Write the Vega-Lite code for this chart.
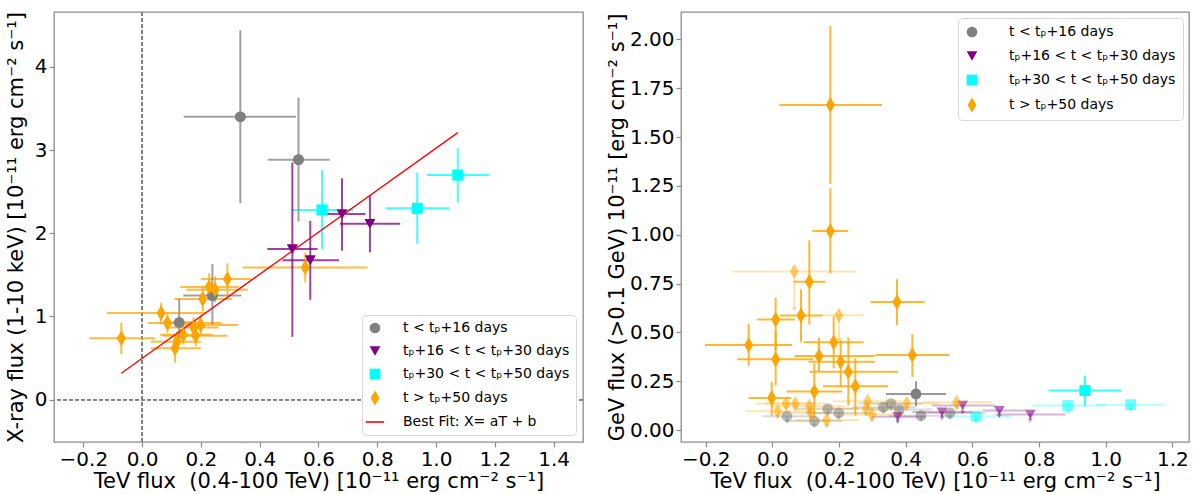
{
  "$schema": "https://vega.github.io/schema/vega-lite/v6.json",
  "background": "white",
  "padding": {"left": 4, "top": 10, "right": 4, "bottom": 0},
  "config": {
    "font": "DejaVu Sans",
    "view": {"stroke": "#8c8c8c", "strokeWidth": 1.3},
    "axis": {
      "grid": false, "domain": false, "tickColor": "#8c8c8c", "tickSize": 5, "tickWidth": 1.2,
      "labelFontSize": 20, "labelColor": "black", "labelPadding": 2,
      "titleFontSize": 21, "titleFontWeight": "normal", "titleColor": "black"
    },
    "legend": {
      "title": null, "labelFontSize": 14, "labelColor": "black", "labelLimit": 400, "symbolSize": 115,
      "symbolStrokeWidth": 0, "strokeColor": "#d8d8d8", "fillColor": "white", "cornerRadius": 4,
      "padding": 6, "rowPadding": 9, "labelOffset": 21, "offset": 7
    }
  },
  "spacing": 20,
  "resolve": {
    "scale": {"color": "independent", "shape": "independent"},
    "legend": {"color": "independent", "shape": "independent"}
  },
  "hconcat": [
    {
      "width": 529,
      "height": 430,
      "data": {"values": [
        {"g": "t < tₚ+16 days", "x": 0.334, "y": 3.40, "xlo": 0.141, "xhi": 0.524, "ylo": 2.36, "yhi": 4.44},
        {"g": "t < tₚ+16 days", "x": 0.532, "y": 2.885, "xlo": 0.427, "xhi": 0.638, "ylo": 2.14, "yhi": 3.63},
        {"g": "t < tₚ+16 days", "x": 0.239, "y": 1.25, "xlo": 0.140, "xhi": 0.338, "ylo": 0.906, "yhi": 1.63},
        {"g": "t < tₚ+16 days", "x": 0.126, "y": 0.926, "xlo": 0.07, "xhi": 0.185, "ylo": 0.71, "yhi": 1.21},
        {"g": "tₚ+16 < t < tₚ+30 days", "x": 0.511, "y": 1.81, "xlo": 0.426, "xhi": 0.597, "ylo": 0.754, "yhi": 2.85},
        {"g": "tₚ+16 < t < tₚ+30 days", "x": 0.572, "y": 1.675, "xlo": 0.477, "xhi": 0.67, "ylo": 1.20, "yhi": 2.15},
        {"g": "tₚ+16 < t < tₚ+30 days", "x": 0.68, "y": 2.23, "xlo": 0.63, "xhi": 0.76, "ylo": 1.79, "yhi": 2.66},
        {"g": "tₚ+16 < t < tₚ+30 days", "x": 0.775, "y": 2.115, "xlo": 0.673, "xhi": 0.878, "ylo": 1.77, "yhi": 2.45},
        {"g": "tₚ+30 < t < tₚ+50 days", "x": 0.612, "y": 2.28, "xlo": 0.51, "xhi": 0.717, "ylo": 1.81, "yhi": 2.76},
        {"g": "tₚ+30 < t < tₚ+50 days", "x": 0.936, "y": 2.30, "xlo": 0.829, "xhi": 1.046, "ylo": 1.87, "yhi": 2.73},
        {"g": "tₚ+30 < t < tₚ+50 days", "x": 1.074, "y": 2.70, "xlo": 0.969, "xhi": 1.18, "ylo": 2.37, "yhi": 3.03},
        {"g": "t > tₚ+50 days", "x": 0.290, "y": 1.45, "xlo": 0.20, "xhi": 0.37, "ylo": 1.255, "yhi": 1.64},
        {"g": "t > tₚ+50 days", "x": 0.228, "y": 1.355, "xlo": 0.13, "xhi": 0.33, "ylo": 1.2, "yhi": 1.52},
        {"g": "t > tₚ+50 days", "x": 0.248, "y": 1.32, "xlo": 0.15, "xhi": 0.36, "ylo": 1.17, "yhi": 1.48},
        {"g": "t > tₚ+50 days", "x": 0.206, "y": 1.21, "xlo": 0.11, "xhi": 0.305, "ylo": 1.06, "yhi": 1.36},
        {"g": "t > tₚ+50 days", "x": 0.0645, "y": 1.04, "xlo": -0.12, "xhi": 0.22, "ylo": 0.906, "yhi": 1.165},
        {"g": "t > tₚ+50 days", "x": 0.086, "y": 0.92, "xlo": 0.02, "xhi": 0.27, "ylo": 0.8, "yhi": 1.04},
        {"g": "t > tₚ+50 days", "x": 0.199, "y": 0.898, "xlo": 0.123, "xhi": 0.327, "ylo": 0.78, "yhi": 1.02},
        {"g": "t > tₚ+50 days", "x": 0.175, "y": 0.866, "xlo": 0.08, "xhi": 0.26, "ylo": 0.74, "yhi": 0.99},
        {"g": "t > tₚ+50 days", "x": 0.182, "y": 0.766, "xlo": 0.07, "xhi": 0.29, "ylo": 0.64, "yhi": 0.89},
        {"g": "t > tₚ+50 days", "x": 0.140, "y": 0.778, "xlo": 0.06, "xhi": 0.24, "ylo": 0.66, "yhi": 0.9},
        {"g": "t > tₚ+50 days", "x": 0.119, "y": 0.694, "xlo": 0.03, "xhi": 0.2, "ylo": 0.57, "yhi": 0.82},
        {"g": "t > tₚ+50 days", "x": 0.112, "y": 0.617, "xlo": 0.03, "xhi": 0.2, "ylo": 0.445, "yhi": 0.76},
        {"g": "t > tₚ+50 days", "x": -0.071, "y": 0.738, "xlo": -0.18, "xhi": 0.044, "ylo": 0.546, "yhi": 0.925},
        {"g": "t > tₚ+50 days", "x": 0.555, "y": 1.587, "xlo": 0.342, "xhi": 0.767, "ylo": 1.41, "yhi": 1.77}
      ]},
      "layer": [
        {
          "mark": {"type": "rule", "strokeDash": [4, 2], "color": "#808080", "strokeWidth": 1},
          "encoding": {
            "x": {"datum": 0, "type": "quantitative",
              "scale": {"domain": [-0.3, 1.5], "nice": false, "zero": false},
              "axis": {"values": [-0.2, 0, 0.2, 0.4, 0.6, 0.8, 1.0, 1.2, 1.4], "format": ".1f", "titlePadding": 1,
                "title": "TeV flux \u00a0(0.4-100 TeV) [10⁻¹¹ erg cm⁻² s⁻¹]"}}
          }
        },
        {
          "mark": {"type": "rule", "strokeDash": [4, 2], "color": "#808080", "strokeWidth": 1},
          "encoding": {
            "y": {"datum": 0, "type": "quantitative",
              "scale": {"domain": [-0.51, 4.66], "nice": false, "zero": false},
              "axis": {"values": [0, 1, 2, 3, 4], "format": "d", "minExtent": 21, "maxExtent": 21, "titlePadding": 7,
                "title": "X-ray flux (1-10 keV) [10⁻¹¹ erg cm⁻² s⁻¹]"}}
          }
        },
        {
          "mark": {"type": "point", "filled": true, "size": 115, "opacity": 1},
          "encoding": {
            "x": {"field": "x", "type": "quantitative"},
            "y": {"field": "y", "type": "quantitative"},
            "color": {"field": "g", "type": "nominal",
              "scale": {"domain": ["t < tₚ+16 days", "tₚ+16 < t < tₚ+30 days", "tₚ+30 < t < tₚ+50 days", "t > tₚ+50 days", "Best Fit: X= aT + b"],
                "range": ["#808080", "#800080", "#00ffff", "#ffa500", "#ff0000"]},
              "legend": {"orient": "bottom-right"}},
            "shape": {"field": "g", "type": "nominal",
              "scale": {"domain": ["t < tₚ+16 days", "tₚ+16 < t < tₚ+30 days", "tₚ+30 < t < tₚ+50 days", "t > tₚ+50 days", "Best Fit: X= aT + b"],
                "range": ["circle", "triangle-down", "square", "M0,-1.4L0.82,0L0,1.4L-0.82,0Z", "M-1.7,-0.15L1.7,-0.15L1.7,0.15L-1.7,0.15Z"]},
              "legend": {"orient": "bottom-right"}}
          }
        },
        {
          "mark": {"type": "rule", "strokeWidth": 2, "opacity": 0.75},
          "encoding": {
            "x": {"field": "xlo", "type": "quantitative"},
            "x2": {"field": "xhi"},
            "y": {"field": "y", "type": "quantitative"},
            "color": {"field": "g", "type": "nominal"}
          }
        },
        {
          "mark": {"type": "rule", "strokeWidth": 2, "opacity": 0.75},
          "encoding": {
            "x": {"field": "x", "type": "quantitative"},
            "y": {"field": "ylo", "type": "quantitative"},
            "y2": {"field": "yhi"},
            "color": {"field": "g", "type": "nominal"}
          }
        },
        {
          "data": {"values": [
            {"g": "Best Fit: X= aT + b", "x": -0.071, "y": 0.317},
            {"g": "Best Fit: X= aT + b", "x": 1.074, "y": 3.21}
          ]},
          "mark": {"type": "line", "strokeWidth": 1.3},
          "encoding": {
            "x": {"field": "x", "type": "quantitative"},
            "y": {"field": "y", "type": "quantitative"},
            "color": {"field": "g", "type": "nominal"}
          }
        },
        {
          "mark": {"type": "point", "filled": true, "size": 115, "opacity": 1},
          "encoding": {
            "x": {"field": "x", "type": "quantitative"},
            "y": {"field": "y", "type": "quantitative"},
            "color": {"field": "g", "type": "nominal"},
            "shape": {"field": "g", "type": "nominal"}
          }
        }
      ]
    },
    {
      "width": 508,
      "height": 430,
      "data": {"values": [
        {"g": "t < tₚ+16 days", "x": 0.431, "y": 0.185, "xlo": 0.341, "xhi": 0.521, "ylo": 0.122, "yhi": 0.25, "ul": false},
        {"g": "t < tₚ+16 days", "x": 0.044, "y": 0.071, "xlo": -0.03, "xhi": 0.12, "ylo": 0.04, "yhi": 0.071, "ul": true},
        {"g": "t < tₚ+16 days", "x": 0.126, "y": 0.046, "xlo": 0.04, "xhi": 0.21, "ylo": 0.02, "yhi": 0.046, "ul": true},
        {"g": "t < tₚ+16 days", "x": 0.166, "y": 0.109, "xlo": 0.07, "xhi": 0.26, "ylo": 0.08, "yhi": 0.109, "ul": true},
        {"g": "t < tₚ+16 days", "x": 0.199, "y": 0.088, "xlo": 0.1, "xhi": 0.3, "ylo": 0.06, "yhi": 0.088, "ul": true},
        {"g": "t < tₚ+16 days", "x": 0.333, "y": 0.117, "xlo": 0.24, "xhi": 0.43, "ylo": 0.09, "yhi": 0.117, "ul": true},
        {"g": "t < tₚ+16 days", "x": 0.356, "y": 0.136, "xlo": 0.26, "xhi": 0.45, "ylo": 0.11, "yhi": 0.136, "ul": true},
        {"g": "t < tₚ+16 days", "x": 0.381, "y": 0.105, "xlo": 0.28, "xhi": 0.48, "ylo": 0.08, "yhi": 0.105, "ul": true},
        {"g": "t < tₚ+16 days", "x": 0.446, "y": 0.074, "xlo": 0.35, "xhi": 0.54, "ylo": 0.05, "yhi": 0.074, "ul": true},
        {"g": "t < tₚ+16 days", "x": 0.533, "y": 0.088, "xlo": 0.43, "xhi": 0.64, "ylo": 0.06, "yhi": 0.088, "ul": true},
        {"g": "tₚ+16 < t < tₚ+30 days", "x": 0.376, "y": 0.068, "xlo": 0.3, "xhi": 0.46, "ylo": 0.04, "yhi": 0.068, "ul": true},
        {"g": "tₚ+16 < t < tₚ+30 days", "x": 0.509, "y": 0.092, "xlo": 0.42, "xhi": 0.6, "ylo": 0.06, "yhi": 0.092, "ul": true},
        {"g": "tₚ+16 < t < tₚ+30 days", "x": 0.571, "y": 0.126, "xlo": 0.48, "xhi": 0.67, "ylo": 0.09, "yhi": 0.126, "ul": true},
        {"g": "tₚ+16 < t < tₚ+30 days", "x": 0.681, "y": 0.10, "xlo": 0.63, "xhi": 0.76, "ylo": 0.07, "yhi": 0.10, "ul": true},
        {"g": "tₚ+16 < t < tₚ+30 days", "x": 0.774, "y": 0.08, "xlo": 0.67, "xhi": 0.88, "ylo": 0.05, "yhi": 0.08, "ul": true},
        {"g": "tₚ+30 < t < tₚ+50 days", "x": 0.938, "y": 0.202, "xlo": 0.829, "xhi": 1.046, "ylo": 0.122, "yhi": 0.279, "ul": false},
        {"g": "tₚ+30 < t < tₚ+50 days", "x": 0.611, "y": 0.071, "xlo": 0.51, "xhi": 0.72, "ylo": 0.04, "yhi": 0.071, "ul": true},
        {"g": "tₚ+30 < t < tₚ+50 days", "x": 0.886, "y": 0.126, "xlo": 0.78, "xhi": 1.0, "ylo": 0.09, "yhi": 0.126, "ul": true},
        {"g": "tₚ+30 < t < tₚ+50 days", "x": 1.075, "y": 0.13, "xlo": 0.97, "xhi": 1.18, "ylo": 0.1, "yhi": 0.13, "ul": true},
        {"g": "t > tₚ+50 days", "x": 0.174, "y": 1.664, "xlo": 0.021, "xhi": 0.329, "ylo": 1.259, "yhi": 2.069, "ul": false},
        {"g": "t > tₚ+50 days", "x": 0.174, "y": 1.019, "xlo": 0.12, "xhi": 0.228, "ylo": 0.802, "yhi": 1.238, "ul": false},
        {"g": "t > tₚ+50 days", "x": 0.111, "y": 0.759, "xlo": 0.063, "xhi": 0.16, "ylo": 0.54, "yhi": 0.971, "ul": false},
        {"g": "t > tₚ+50 days", "x": 0.374, "y": 0.655, "xlo": 0.295, "xhi": 0.457, "ylo": 0.536, "yhi": 0.772, "ul": false},
        {"g": "t > tₚ+50 days", "x": 0.086, "y": 0.586, "xlo": 0.023, "xhi": 0.151, "ylo": 0.45, "yhi": 0.72, "ul": false},
        {"g": "t > tₚ+50 days", "x": 0.010, "y": 0.566, "xlo": -0.046, "xhi": 0.068, "ylo": 0.41, "yhi": 0.678, "ul": false},
        {"g": "t > tₚ+50 days", "x": -0.071, "y": 0.436, "xlo": -0.202, "xhi": 0.06, "ylo": 0.329, "yhi": 0.543, "ul": false},
        {"g": "t > tₚ+50 days", "x": 0.184, "y": 0.45, "xlo": 0.094, "xhi": 0.274, "ylo": 0.316, "yhi": 0.583, "ul": false},
        {"g": "t > tₚ+50 days", "x": 0.420, "y": 0.384, "xlo": 0.31, "xhi": 0.531, "ylo": 0.272, "yhi": 0.491, "ul": false},
        {"g": "t > tₚ+50 days", "x": 0.14, "y": 0.379, "xlo": 0.066, "xhi": 0.308, "ylo": 0.298, "yhi": 0.474, "ul": false},
        {"g": "t > tₚ+50 days", "x": 0.010, "y": 0.362, "xlo": -0.105, "xhi": 0.123, "ylo": 0.229, "yhi": 0.505, "ul": false},
        {"g": "t > tₚ+50 days", "x": 0.205, "y": 0.35, "xlo": 0.108, "xhi": 0.308, "ylo": 0.221, "yhi": 0.462, "ul": false},
        {"g": "t > tₚ+50 days", "x": 0.228, "y": 0.298, "xlo": 0.112, "xhi": 0.377, "ylo": 0.126, "yhi": 0.474, "ul": false},
        {"g": "t > tₚ+50 days", "x": 0.249, "y": 0.224, "xlo": 0.152, "xhi": 0.348, "ylo": 0.074, "yhi": 0.367, "ul": false},
        {"g": "t > tₚ+50 days", "x": 0.126, "y": 0.198, "xlo": 0.042, "xhi": 0.209, "ylo": 0.066, "yhi": 0.341, "ul": false},
        {"g": "t > tₚ+50 days", "x": -0.002, "y": 0.164, "xlo": -0.071, "xhi": 0.057, "ylo": 0.074, "yhi": 0.247, "ul": false},
        {"g": "t > tₚ+50 days", "x": 0.066, "y": 0.812, "xlo": -0.12, "xhi": 0.251, "ylo": 0.62, "yhi": 0.812, "ul": true},
        {"g": "t > tₚ+50 days", "x": 0.2, "y": 0.588, "xlo": 0.146, "xhi": 0.274, "ylo": 0.46, "yhi": 0.588, "ul": true},
        {"g": "t > tₚ+50 days", "x": 0.041, "y": 0.136, "xlo": -0.05, "xhi": 0.13, "ylo": 0.11, "yhi": 0.136, "ul": true},
        {"g": "t > tₚ+50 days", "x": 0.069, "y": 0.136, "xlo": -0.02, "xhi": 0.16, "ylo": 0.11, "yhi": 0.136, "ul": true},
        {"g": "t > tₚ+50 days", "x": 0.016, "y": 0.097, "xlo": -0.08, "xhi": 0.11, "ylo": 0.07, "yhi": 0.097, "ul": true},
        {"g": "t > tₚ+50 days", "x": 0.111, "y": 0.122, "xlo": 0.0, "xhi": 0.22, "ylo": 0.09, "yhi": 0.122, "ul": true},
        {"g": "t > tₚ+50 days", "x": 0.116, "y": 0.088, "xlo": 0.02, "xhi": 0.21, "ylo": 0.06, "yhi": 0.088, "ul": true},
        {"g": "t > tₚ+50 days", "x": 0.163, "y": 0.051, "xlo": 0.07, "xhi": 0.26, "ylo": 0.02, "yhi": 0.051, "ul": true},
        {"g": "t > tₚ+50 days", "x": 0.286, "y": 0.148, "xlo": 0.18, "xhi": 0.39, "ylo": 0.12, "yhi": 0.148, "ul": true},
        {"g": "t > tₚ+50 days", "x": 0.281, "y": 0.109, "xlo": 0.18, "xhi": 0.38, "ylo": 0.08, "yhi": 0.109, "ul": true},
        {"g": "t > tₚ+50 days", "x": 0.299, "y": 0.08, "xlo": 0.2, "xhi": 0.4, "ylo": 0.05, "yhi": 0.08, "ul": true},
        {"g": "t > tₚ+50 days", "x": 0.403, "y": 0.136, "xlo": 0.3, "xhi": 0.5, "ylo": 0.11, "yhi": 0.136, "ul": true},
        {"g": "t > tₚ+50 days", "x": 0.553, "y": 0.143, "xlo": 0.45, "xhi": 0.66, "ylo": 0.11, "yhi": 0.143, "ul": true}
      ]},
      "layer": [
        {
          "mark": {"type": "point", "filled": true, "size": 115},
          "encoding": {
            "x": {"field": "x", "type": "quantitative",
              "scale": {"domain": [-0.274, 1.25], "nice": false, "zero": false},
              "axis": {"values": [-0.2, 0, 0.2, 0.4, 0.6, 0.8, 1.0, 1.2], "format": ".1f", "titlePadding": 1,
                "title": "TeV flux \u00a0(0.4-100 TeV) [10⁻¹¹ erg cm⁻² s⁻¹]"}},
            "y": {"field": "y", "type": "quantitative",
              "scale": {"domain": [-0.061, 2.14], "nice": false, "zero": false},
              "axis": {"values": [0, 0.25, 0.5, 0.75, 1.0, 1.25, 1.5, 1.75, 2.0], "format": ".2f", "minExtent": 52, "maxExtent": 52, "titlePadding": 2,
                "title": "GeV flux (>0.1 GeV) 10⁻¹¹ [erg cm⁻² s⁻¹]"}},
            "color": {"field": "g", "type": "nominal",
              "scale": {"domain": ["t < tₚ+16 days", "tₚ+16 < t < tₚ+30 days", "tₚ+30 < t < tₚ+50 days", "t > tₚ+50 days"],
                "range": ["#808080", "#800080", "#00ffff", "#ffa500"]},
              "legend": {"orient": "top-right", "rowPadding": 10, "labelOffset": 30, "padding": 7, "offset": 6}},
            "shape": {"field": "g", "type": "nominal",
              "scale": {"domain": ["t < tₚ+16 days", "tₚ+16 < t < tₚ+30 days", "tₚ+30 < t < tₚ+50 days", "t > tₚ+50 days"],
                "range": ["circle", "triangle-down", "square", "M0,-1.4L0.82,0L0,1.4L-0.82,0Z"]},
              "legend": {"orient": "top-right", "rowPadding": 10, "labelOffset": 30, "padding": 7, "offset": 6}},
            "opacity": {"condition": {"test": "datum.ul", "value": 0.35}, "value": 1}
          }
        },
        {
          "mark": {"type": "rule", "strokeWidth": 2},
          "encoding": {
            "x": {"field": "xlo", "type": "quantitative"},
            "x2": {"field": "xhi"},
            "y": {"field": "y", "type": "quantitative"},
            "color": {"field": "g", "type": "nominal"},
            "opacity": {"condition": {"test": "datum.ul", "value": 0.3}, "value": 0.8}
          }
        },
        {
          "mark": {"type": "rule", "strokeWidth": 2},
          "encoding": {
            "x": {"field": "x", "type": "quantitative"},
            "y": {"field": "ylo", "type": "quantitative"},
            "y2": {"field": "yhi"},
            "color": {"field": "g", "type": "nominal"},
            "opacity": {"condition": {"test": "datum.ul", "value": 0.3}, "value": 0.8}
          }
        },
        {
          "transform": [{"filter": "datum.ul"}],
          "mark": {"type": "point", "filled": true, "shape": "triangle-down", "size": 22, "opacity": 0.4},
          "encoding": {
            "x": {"field": "x", "type": "quantitative"},
            "y": {"field": "ylo", "type": "quantitative"},
            "color": {"field": "g", "type": "nominal"}
          }
        },
        {
          "mark": {"type": "point", "filled": true, "size": 115},
          "encoding": {
            "x": {"field": "x", "type": "quantitative"},
            "y": {"field": "y", "type": "quantitative"},
            "color": {"field": "g", "type": "nominal"},
            "shape": {"field": "g", "type": "nominal"},
            "opacity": {"condition": {"test": "datum.ul", "value": 0.35}, "value": 1}
          }
        }
      ]
    }
  ]
}
